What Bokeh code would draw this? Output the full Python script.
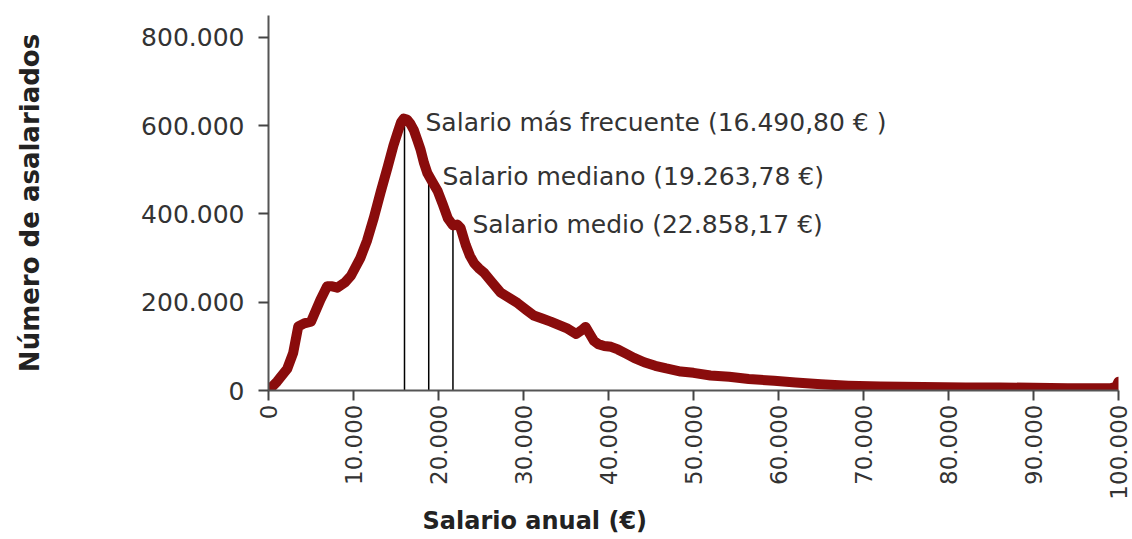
import math
from bokeh.plotting import figure
from bokeh.models import Range1d, FixedTicker, Label, Title
from bokeh.embed import file_html
from bokeh.resources import INLINE

# Distribution of annual salaries
salario = [0, 1000, 2200, 2900, 3500, 4200, 5000, 6100, 6900, 7500, 8100, 9000, 9700,
           10800, 11600, 12400, 13200, 14000, 14700, 15200, 15600, 15900, 16300, 16700,
           17100, 17500, 17900, 18300, 18700, 19300, 19900, 20500, 21100, 21700, 22200,
           22600, 23200, 23700, 24200, 24800, 25400, 26300, 27300, 28300, 29300, 30300,
           31200, 32200, 33200, 34200, 35200, 36200, 36800, 37300, 37800, 38300, 38800,
           39500, 40300, 41100, 42000, 43000, 44200, 45500, 46800, 48500, 50000, 52000,
           54200, 56500, 59500, 62000, 65000, 68200, 72000, 77000, 82000, 86000, 90000,
           94000, 97000, 99000, 99700, 100000]
asalariados = [0, 20000, 49000, 85000, 145000, 152000, 156000, 205000, 236000, 236000,
               233000, 245000, 260000, 300000, 340000, 392000, 450000, 505000, 555000,
               585000, 608000, 616000, 614000, 604000, 590000, 568000, 545000, 515000,
               492000, 472000, 452000, 422000, 390000, 374000, 376000, 368000, 330000,
               305000, 288000, 276000, 266000, 245000, 222000, 210000, 198000, 183000,
               170000, 163000, 156000, 148000, 140000, 128000, 136000, 144000, 128000,
               112000, 105000, 101000, 99000, 93000, 84000, 74000, 64000, 56000, 50000,
               43000, 40000, 34000, 31000, 26000, 22000, 18000, 14000, 11000, 9000, 8000,
               7000, 7000, 6000, 5000, 5000, 5000, 8000, 20000]

# Reference salaries (vertical lines)
ref_nombres = ["Salario más frecuente (16.490,80 € )",
               "Salario mediano (19.263,78 €)",
               "Salario medio (22.858,17 €)"]
ref_salario = [16000, 18850, 21700]
ref_altura = [610000, 470000, 372000]

x_ticks = [0, 10000, 20000, 30000, 40000, 50000, 60000, 70000, 80000, 90000, 100000]
x_tick_labels = ["0", "10.000", "20.000", "30.000", "40.000", "50.000", "60.000",
                 "70.000", "80.000", "90.000", "100.000"]
y_ticks = [0, 200000, 400000, 600000, 800000]
y_tick_labels = ["0", "200.000", "400.000", "600.000", "800.000"]

FONT = "DejaVu Sans"
TXT = "#333333"

p = figure(width=1132, height=537, output_backend="svg", toolbar_location=None,
           x_range=Range1d(0, 100000), y_range=Range1d(0, 849600),
           min_border_left=268, min_border_right=14, min_border_top=15,
           min_border_bottom=145)
p.outline_line_color = None
p.xgrid.visible = False
p.ygrid.visible = False
p.background_fill_color = "white"

for ax in (p.xaxis[0], p.yaxis[0]):
    ax.axis_line_color = "#555555"
    ax.axis_line_width = 2
    ax.major_tick_line_color = "#444444"
    ax.major_tick_line_width = 2
    ax.major_tick_in = 0
    ax.major_tick_out = 10
    ax.minor_tick_line_color = None
    ax.major_label_text_font = FONT
    ax.major_label_text_color = TXT

p.xaxis.ticker = FixedTicker(ticks=x_ticks)
p.xaxis.major_label_overrides = {t: l for t, l in zip(x_ticks, x_tick_labels)}
p.xaxis.major_label_orientation = math.pi / 2
p.xaxis.major_label_text_font_size = "23px"
p.xaxis.major_label_standoff = 4

p.yaxis.ticker = FixedTicker(ticks=y_ticks)
p.yaxis.major_label_overrides = {t: l for t, l in zip(y_ticks, y_tick_labels)}
p.yaxis.major_label_text_font_size = "25px"
p.yaxis.major_label_standoff = 14
p.yaxis.axis_label = "Número de asalariados"
p.yaxis.axis_label_text_font = FONT
p.yaxis.axis_label_text_font_style = "bold"
p.yaxis.axis_label_text_font_size = "26px"
p.yaxis.axis_label_text_color = "#222222"
p.yaxis.axis_label_standoff = 93

# x axis title placed like the reference (left part of the axis)
p.add_layout(Title(text="Salario anual (€)", align="left", offset=154,
                   text_font=FONT, text_font_style="bold", text_font_size="24px",
                   text_color="#222222", standoff=5), "below")

# vertical reference lines
p.segment(x0=ref_salario, y0=[0, 0, 0], x1=ref_salario, y1=ref_altura,
          line_color="black", line_width=1.5)

# distribution curve
p.line(salario, asalariados, line_color="#8a0c0c", line_width=10,
       line_join="round", line_cap="round")

# annotations
ann_pos = [(18470, 608000), (20470, 484000), (24000, 376000)]
for (ax_, ay_), txt in zip(ann_pos, ref_nombres):
    p.add_layout(Label(x=ax_, y=ay_, text=txt, text_font=FONT, text_font_size="25px",
                       text_color=TXT, text_baseline="alphabetic", text_align="left"))

open("out.html", "w").write(file_html(p, INLINE))
